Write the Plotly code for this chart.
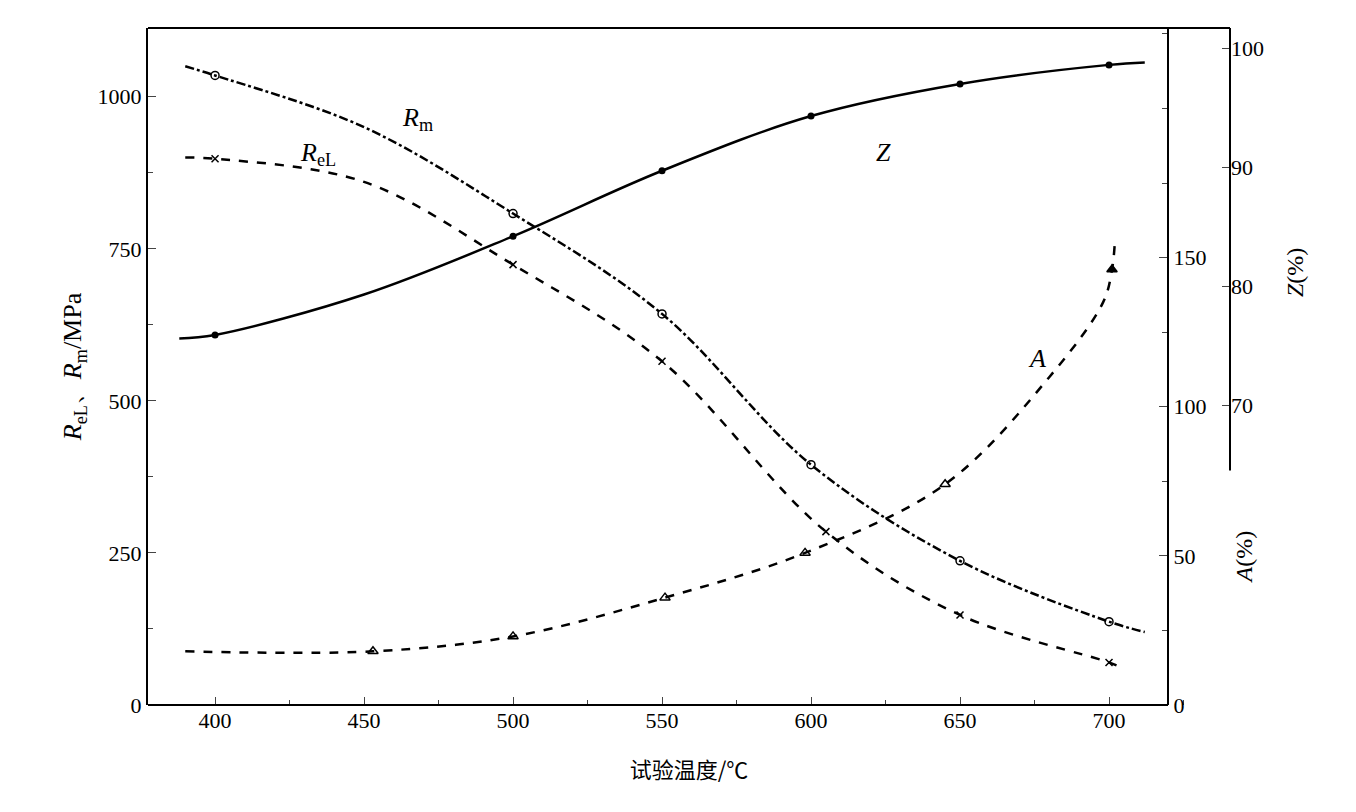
import plotly.graph_objects as go

rm_x=[390,400,450,500,550,600,650,700,712]
rm_y=[1050,1035,950,808,643,395,237,137,120]
rm_mx=[400,500,550,600,650,700]; rm_my=[1035,808,643,395,237,137]
rel_x=[390,400,450,500,550,605,650,700,705]
rel_y=[900,898,860,724,565,285,148,70,60]
rel_mx=[400,500,550,605,650,700]; rel_my=[898,724,565,285,148,70]
z_x=[388,400,450,500,550,600,650,700,712]
z_y=[75.6,75.9,79.3,84.2,89.7,94.3,97.0,98.6,98.8]
z_mx=[400,500,550,600,650,700]; z_my=[75.9,84.2,89.7,94.3,97.0,98.6]
a_x=[390,453,500,551,598,645,680,698,701,702]
a_y=[18,18,23,36,51,74,110,135,146,156]
a_mx=[453,500,551,598,645,701]; a_my=[18,23,36,51,74,146]

K='black'
fig=go.Figure()
fig.add_trace(go.Scatter(x=rm_x,y=rm_y,mode='lines',line=dict(color=K,width=2.5,dash='dashdot',shape='spline')))
fig.add_trace(go.Scatter(x=rm_mx,y=rm_my,mode='markers',marker=dict(symbol='circle-open',color=K,size=8,line=dict(width=1.5,color=K))))
fig.add_trace(go.Scatter(x=rel_x,y=rel_y,mode='lines',line=dict(color=K,width=2.5,dash='dash',shape='spline')))
fig.add_trace(go.Scatter(x=rel_mx,y=rel_my,mode='markers',marker=dict(symbol='x-thin-open',color=K,size=7,line=dict(width=1.5,color=K))))
fig.add_trace(go.Scatter(x=z_x,y=z_y,yaxis='y3',mode='lines',line=dict(color=K,width=2.5,shape='spline')))
fig.add_trace(go.Scatter(x=z_mx,y=z_my,yaxis='y3',mode='markers',marker=dict(symbol='circle',color=K,size=7)))
fig.add_trace(go.Scatter(x=a_x,y=a_y,yaxis='y2',mode='lines',line=dict(color=K,width=2.5,dash='dash',shape='spline')))
fig.add_trace(go.Scatter(x=a_mx,y=a_my,yaxis='y2',mode='markers',marker=dict(symbol=['triangle-up-open']*5+['triangle-up'],color=K,size=9,line=dict(width=1.5,color=K))))

F=dict(family='Liberation Serif',size=22,color=K)
fig.update_layout(width=1356,height=812,margin=dict(l=140,r=134,t=20,b=115,autoexpand=False),
    plot_bgcolor='white',paper_bgcolor='white',showlegend=False,font=F,
    xaxis=dict(range=[377.5,740.6],tickvals=[400,450,500,550,600,650,700],ticks='inside',ticklen=8,automargin=False,
        minor=dict(dtick=25,ticks='inside',ticklen=5),showgrid=False,showline=False,zeroline=False,
        title=dict(text='试验温度/℃',font=dict(family='Noto Sans CJK SC',size=22),standoff=30)),
    yaxis=dict(range=[0,1113],tickvals=[0,250,500,750,1000],ticks='inside',ticklen=8,automargin=False,
        minor=dict(dtick=125,ticks='inside',ticklen=5),showgrid=False,showline=True,linecolor=K,linewidth=2,zeroline=False,
        title=dict(text='<i>R</i><sub>eL</sub>、<i>R</i><sub>m</sub>/MPa',standoff=8)),
    yaxis2=dict(overlaying='y',anchor='free',position=0.9427,side='right',range=[0,227],automargin=False,
        tickvals=[0,50,100,150],ticks='inside',ticklen=8,minor=dict(dtick=25,ticks='inside',ticklen=5),
        showgrid=False,showline=True,linecolor=K,linewidth=2,zeroline=False),
    yaxis3=dict(overlaying='y',anchor='free',position=1.0,side='right',range=[44.8,101.7],automargin=False,
        tickvals=[70,80,90,100],ticks='inside',ticklen=8,showgrid=False,showline=False,zeroline=False),
)
fig.add_shape(type='line',xref='paper',yref='paper',x0=0,x1=0.9427,y0=0,y1=0,line=dict(color=K,width=2))
fig.add_shape(type='line',xref='paper',yref='paper',x0=0,x1=1,y0=1,y1=1,line=dict(color=K,width=2))
fig.add_shape(type='line',xref='paper',yref='y3',x0=1,x1=1,y0=64.5,y1=101.7,line=dict(color=K,width=2))
ann=[('<i>R</i><sub>m</sub>',392,93),('<i>R</i><sub>eL</sub>',290,128),('<i>Z</i>',885,128),('<i>A</i>',1040,350)]
for t,px,py in ann:
    fig.add_annotation(text=t,xref='paper',yref='paper',x=(px-140)/1082,y=(697-py)/677,showarrow=False,font=dict(family='Liberation Serif',size=26))
for t,px,py in [('<i>A</i>(%)',1250,578),('<i>Z</i>(%)',1302,265)]:
    fig.add_annotation(text=t,xref='paper',yref='paper',x=(px-140)/1082,y=(697-py)/677,showarrow=False,textangle=-90,font=dict(family='Liberation Serif',size=24))
fig.write_html('out.html')
